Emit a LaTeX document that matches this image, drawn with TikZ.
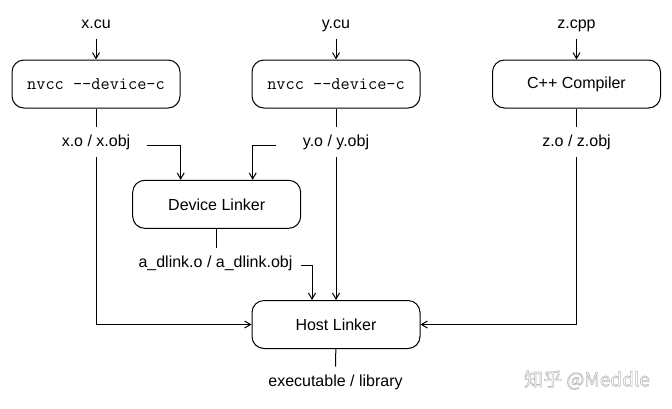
\documentclass[tikz,border=0pt]{standalone}
\usepackage{fontspec}
\setmainfont{Liberation Sans}
\newfontfamily\cjkfont{Noto Sans CJK SC}
\usetikzlibrary{arrows.meta}
\newcommand{\outlinetext}[1]{\special{pdf:literal direct 1 Tr 0.6 w}#1\special{pdf:literal direct 0 Tr}}
\begin{document}
\begin{tikzpicture}[x=1pt,y=-1pt,
  font=\fontsize{16}{19}\selectfont,
  line width=1pt,
  box/.style={draw, rounded corners=12pt, minimum width=168pt, minimum height=48pt, inner sep=0pt},
  mono/.style={font=\fontsize{17.8}{20}\ttfamily},
  lbl/.style={inner xsep=0pt, inner ysep=7pt, text height=12pt, text depth=3pt},
  conn/.style={draw, line width=1pt},
  arr/.style={conn, -{Straight Barb[length=6pt,width=7pt]}},
]
\useasboundingbox (0,0) rectangle (672,408);
% inputs
\node[lbl] (xcu) at (96,23.5) {x.cu};
\node[lbl] (ycu) at (336,23.5) {y.cu};
\node[lbl] (zcpp) at (576.5,23.5) {z.cpp};
% compilers
\node[box, mono] (nx) at (96,84) {nvcc -{}-device-c};
\node[box, mono] (ny) at (336,84) {nvcc -{}-device-c};
\node[box] (nz) at (576.5,84) {C++ Compiler};
% object labels
\node[lbl] (xo) at (96,142) {x.o / x.obj};
\node[lbl] (yo) at (336,142) {y.o / y.obj};
\node[lbl] (zo) at (576.5,142) {z.o / z.obj};
% device linker
\node[box] (dl) at (216.7,204.3) {Device Linker};
\node[lbl] (adl) at (215.5,262.5) {a\_dlink.o / a\_dlink.obj};
% host linker
\node[box] (host) at (336,324.5) {Host Linker};
\node[lbl] (exe) at (335.5,381.5) {executable / library};
% watermark
\node[inner sep=0pt, text=gray!55, font=\cjkfont\fontsize{19}{22}\selectfont] (wm) at (587,380) {\outlinetext{知乎 @Meddle}};
% free ends
\coordinate (c1) at (147,145);
\coordinate (c2) at (276,145);
\coordinate (c3) at (301,265);
% connectors
\draw[arr] (xcu) -- (nx);
\draw[arr] (ycu) -- (ny);
\draw[arr] (zcpp) -- (nz);
\draw[conn] (nx) -- (xo);
\draw[conn] (ny) -- (yo);
\draw[conn] (nz) -- (zo);
\draw[arr] (c1) -| ([xshift=-36pt]dl.north);
\draw[arr] (c2) -| ([xshift=36pt]dl.north);
\draw[conn] (dl.south) -- (dl.south |- adl.north);
\draw[arr] (c3) -| ([xshift=-24pt]host.north);
\draw[arr] (xo) |- (host.west);
\draw[arr] (yo) -- (host.north);
\draw[arr] (zo) |- (host.east);
\draw[conn] (host) -- (exe);
\end{tikzpicture}
\end{document}
